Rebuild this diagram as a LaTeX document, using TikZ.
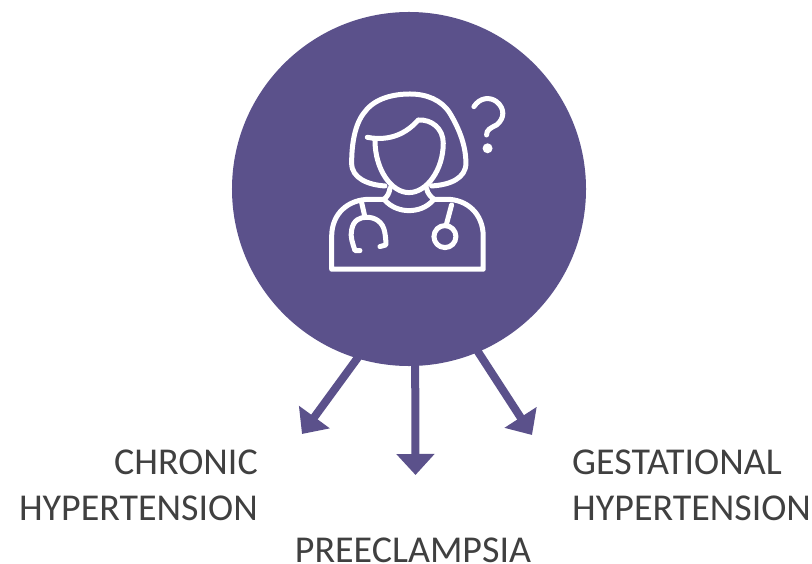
\documentclass[tikz,border=0pt]{standalone}
\usepackage{fontspec}
\setmainfont{Carlito}
\usetikzlibrary{arrows.meta}
\definecolor{plum}{HTML}{5B518B}
\definecolor{ink}{HTML}{404040}
\tikzset{
    label text/.style={text=ink, font=\fontsize{32.4}{39}\selectfont, inner sep=0pt},
    branch/.style={-{Triangle[length=0.63cm,width=1.11cm]}, line width=0.24cm, plum, shorten <=-3pt},
    icon line/.style={draw=white, line width=0.15cm, line cap=round, line join=round}
}
\begin{document}
\begin{tikzpicture}[x=0.03cm, y=-0.03cm]
        \useasboundingbox (0, 0) rectangle (812, 564);
        \node[circle, fill=plum, minimum size=10.62cm, inner sep=0pt] (patient) at (409, 189) {};
        \coordinate (chronicTip) at (302, 434);
        \coordinate (preTip) at (415.5, 475);
        \coordinate (gestTip) at (532, 435);
        \draw[branch] (patient.-107) -- (chronicTip);
        \draw[branch] (patient.-88) -- (preTip);
        \draw[branch] (patient.-67) -- (gestTip);
        \node[label text, anchor=south east, align=right] (chronic) at (258, 521) {CHRONIC\\HYPERTENSION};
        \node[label text, anchor=south west, align=left] (gest) at (572, 521) {GESTATIONAL\\HYPERTENSION};
        \node[label text, anchor=south] (pre) at (413, 563) {PREECLAMPSIA};
        % icon, traced at 3x
        \begin{scope}[shift={(310, 80)}, x=0.01cm, y=-0.01cm]
            \draw[icon line] (225, 318) .. controls (175, 315) and (125, 295) .. (125, 250)
                .. controls (125, 190) and (135, 130) .. (165, 95)
                .. controls (195, 55) and (250, 42) .. (300, 42)
                .. controls (350, 42) and (395, 60) .. (420, 100)
                .. controls (450, 150) and (468, 200) .. (468, 250)
                .. controls (468, 295) and (420, 315) .. (365, 318);
            \draw[icon line] (172, 172) .. controls (240, 185) and (290, 160) .. (325, 120)
                .. controls (365, 118) and (400, 145) .. (400, 190)
                .. controls (400, 270) and (350, 338) .. (297, 338)
                .. controls (245, 338) and (195, 270) .. (195, 180);
            \draw[icon line] (240, 325) .. controls (238, 340) and (232, 350) .. (222, 358)
                .. controls (245, 385) and (275, 392) .. (297, 392)
                .. controls (320, 392) and (350, 385) .. (372, 358)
                .. controls (362, 350) and (352, 340) .. (350, 325);
            \draw[icon line] (222, 358) -- (180, 358)
                .. controls (115, 358) and (65, 400) .. (65, 470) -- (65, 568) -- (520, 568) -- (520, 470)
                .. controls (520, 400) and (470, 358) .. (410, 358) -- (372, 358);
            \draw[icon line] (155, 368) -- (165, 412);
            \draw[icon line] (150, 512) -- (135, 512)
                .. controls (128, 490) and (120, 470) .. (125, 450)
                .. controls (130, 420) and (150, 412) .. (170, 412)
                .. controls (195, 412) and (218, 425) .. (224, 455)
                .. controls (227, 470) and (228, 485) .. (228, 495) -- (210, 500);
            \draw[icon line] (425, 375) -- (409, 435);
            \draw[icon line] (405, 470) circle[radius=33];
            \draw[icon line] (492, 80) .. controls (510, 52) and (540, 50) .. (560, 65)
                .. controls (585, 85) and (585, 115) .. (560, 135)
                .. controls (540, 145) and (530, 150) .. (530, 165);
            \fill[white] (533, 205) circle[radius=15];
        \end{scope}
    \end{tikzpicture}
\end{document}
